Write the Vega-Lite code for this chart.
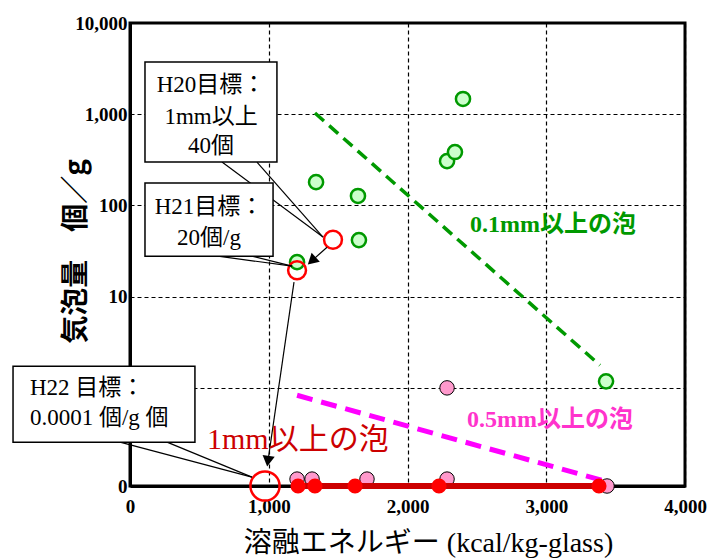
{
  "$schema": "https://vega.github.io/schema/vega-lite/v6.json",
  "width": 555,
  "height": 463,
  "autosize": {"type": "none"},
  "padding": {"left": 130, "top": 23, "right": 30, "bottom": 73},
  "background": "white",
  "config": {"view": {"stroke": "black", "strokeWidth": 3}},
  "datasets": {
    "green": [
      {"x": 1204, "y": 23.9}, {"x": 1341, "y": 180}, {"x": 1643, "y": 127}, {"x": 1650, "y": 41.7},
      {"x": 2285, "y": 306}, {"x": 2342, "y": 385}, {"x": 2400, "y": 1469}, {"x": 3431, "y": 1.18}
    ],
    "pink": [
      {"x": 2285, "y": 1.0}, {"x": 1204, "y": 0.1}, {"x": 1312, "y": 0.1}, {"x": 1708, "y": 0.1},
      {"x": 2285, "y": 0.1}, {"x": 3438, "y": 0.084}
    ],
    "red": [
      {"x": 1211, "y": 0.084}, {"x": 1333, "y": 0.084}, {"x": 1622, "y": 0.084}, {"x": 2227, "y": 0.084}, {"x": 3380, "y": 0.084}
    ],
    "targets": [{"x": 1463, "y": 42}, {"x": 1204, "y": 19.5}],
    "h22": [{"x": 973, "y": 0.084}],
    "callouts": [
      {"x": 663, "y": 299, "x2": 1391, "y2": 45},
      {"x": 915, "y": 299, "x2": 1391, "y2": 45},
      {"x": 634, "y": 27.8, "x2": 1168, "y2": 21.6},
      {"x": 879, "y": 27.8, "x2": 1168, "y2": 21.6},
      {"x": -72, "y": 0.254, "x2": 879, "y2": 0.105},
      {"x": 267, "y": 0.254, "x2": 879, "y2": 0.105}
    ],
    "boxes": [
      {"x": 108, "x2": 1059, "y": 3741, "y2": 299},
      {"x": 108, "x2": 1031, "y": 176, "y2": 27.8},
      {"x": -843, "x2": 468, "y": 1.73, "y2": 0.254}
    ],
    "shafts": [
      {"x": 1420, "y": 34.8, "x2": 1310, "y2": 24.7},
      {"x": 1182, "y": 14.4, "x2": 994, "y2": 0.157}
    ]
  },
  "encoding": {
    "x": {
      "field": "x", "type": "quantitative",
      "scale": {"domain": [0, 4000], "nice": false, "zero": false},
      "axis": {
        "values": [0, 1000, 2000, 3000, 4000], "format": ",d",
        "grid": true, "gridDash": [4, 3], "gridColor": "black", "gridWidth": 1.2, "gridOpacity": 1,
        "domainColor": "black", "domainWidth": 3, "tickSize": 0,
        "labelFont": "Liberation Serif", "labelFontWeight": "bold", "labelFontSize": 19, "labelColor": "black",
        "labelPadding": 11, "labelFlush": false,
        "titleFont": "Liberation Serif, Noto Sans CJK JP", "titleFontSize": 28, "titleFontWeight": "normal",
        "titleColor": "black", "titleX": 298, "titleY": 57, "titleBaseline": "middle", "titleAlign": "center"
      },
      "title": "溶融エネルギー (kcal/kg-glass)"
    },
    "y": {
      "field": "y", "type": "quantitative",
      "scale": {"type": "log", "domain": [0.084, 10000], "nice": false},
      "axis": {
        "values": [0.084, 1, 10, 100, 1000, 10000],
        "labelExpr": "datum.value < 0.5 ? '0' : (datum.value == 1 ? '' : format(datum.value, ',d'))",
        "grid": true, "gridDash": [4, 3], "gridColor": "black", "gridWidth": 1.2, "gridOpacity": 1,
        "domainColor": "black", "domainWidth": 3, "tickSize": 0,
        "labelFont": "Liberation Serif", "labelFontWeight": "bold", "labelFontSize": 19, "labelColor": "black",
        "labelPadding": 3, "labelOverlap": false, "labelFlush": false,
        "titleFont": "Noto Sans CJK JP", "titleFontSize": 28, "titleFontWeight": "bold", "titleColor": "black",
        "titleX": -54, "titleY": 228, "titleBaseline": "middle", "titleAlign": "center", "titleAngle": -90
      },
      "title": "気泡量　個／g"
    }
  },
  "layer": [
    {
      "data": {"values": [{"x": 1204, "y": 0.83}, {"x": 3402, "y": 0.097}]},
      "mark": {"type": "line", "color": "#ff00ff", "strokeWidth": 5, "strokeDash": [16, 9]}
    },
    {
      "data": {"values": [{"x": 1333, "y": 1030}, {"x": 3387, "y": 1.77}]},
      "mark": {"type": "line", "color": "#009900", "strokeWidth": 3.5, "strokeDash": [12, 7]}
    },
    {
      "data": {"name": "green"},
      "mark": {"type": "circle", "fill": "#ccffcc", "stroke": "#009900", "strokeWidth": 2.5, "size": 200, "opacity": 1}
    },
    {
      "data": {"name": "pink"},
      "mark": {"type": "circle", "fill": "#ff99cc", "stroke": "black", "strokeWidth": 1, "size": 210, "opacity": 1}
    },
    {
      "data": {"name": "red"},
      "mark": {"type": "line", "color": "#cc0000", "strokeWidth": 6}
    },
    {
      "data": {"name": "red"},
      "mark": {"type": "circle", "fill": "#ff0000", "size": 230, "opacity": 1}
    },
    {
      "data": {"name": "targets"},
      "mark": {"type": "point", "shape": "circle", "filled": false, "color": "#ff0000", "strokeWidth": 2.5, "size": 320, "opacity": 1}
    },
    {
      "data": {"name": "h22"},
      "mark": {"type": "point", "shape": "circle", "filled": false, "color": "#ff0000", "strokeWidth": 2.5, "size": 850, "opacity": 1}
    },
    {
      "data": {"name": "callouts"},
      "mark": {"type": "rule", "color": "black", "strokeWidth": 1.2},
      "encoding": {"x2": {"field": "x2"}, "y2": {"field": "y2"}}
    },
    {
      "data": {"name": "boxes"},
      "mark": {"type": "rect", "fill": "white", "stroke": "black", "strokeWidth": 1.5},
      "encoding": {"x2": {"field": "x2"}, "y2": {"field": "y2"}}
    },
    {
      "data": {"values": [
        {"x": 584, "y": 2087, "t": "H20目標："},
        {"x": 584, "y": 933, "t": "1mm以上"},
        {"x": 584, "y": 448, "t": "40個"},
        {"x": 569, "y": 96, "t": "H21目標："},
        {"x": 569, "y": 43.9, "t": "20個/g"}
      ]},
      "mark": {"type": "text", "font": "Liberation Serif, Noto Sans CJK JP", "fontSize": 23, "align": "center", "baseline": "middle", "color": "black"},
      "encoding": {"text": {"field": "t"}}
    },
    {
      "data": {"values": [
        {"x": -721, "y": 0.99, "t": "H22 目標："},
        {"x": -721, "y": 0.465, "t": "0.0001 個/g 個"}
      ]},
      "mark": {"type": "text", "font": "Liberation Serif, Noto Sans CJK JP", "fontSize": 23, "align": "left", "baseline": "middle", "color": "black"},
      "encoding": {"text": {"field": "t"}}
    },
    {
      "data": {"name": "shafts"},
      "mark": {"type": "rule", "color": "black", "strokeWidth": 1.2},
      "encoding": {"x2": {"field": "x2"}, "y2": {"field": "y2"}}
    },
    {
      "data": {"values": [{"x": 1310, "y": 24.7}]},
      "mark": {"type": "point", "shape": "triangle-down", "filled": true, "color": "black", "size": 150, "angle": 48, "opacity": 1}
    },
    {
      "data": {"values": [{"x": 994, "y": 0.157}]},
      "mark": {"type": "point", "shape": "triangle-down", "filled": true, "color": "black", "size": 150, "angle": 8, "opacity": 1}
    },
    {
      "data": {"values": [{"x": 555, "y": 0.267, "t": "1mm以上の泡"}]},
      "mark": {"type": "text", "font": "Liberation Serif, Noto Sans CJK JP", "fontSize": 30, "align": "left", "baseline": "middle", "color": "#cc0000"},
      "encoding": {"text": {"field": "t"}}
    },
    {
      "data": {"values": [{"x": 2450, "y": 60.8, "t": "0.1mm以上の泡"}]},
      "mark": {"type": "text", "font": "Liberation Serif, Noto Sans CJK JP", "fontSize": 24, "fontWeight": "bold", "align": "left", "baseline": "middle", "color": "#009900"},
      "encoding": {"text": {"field": "t"}}
    },
    {
      "data": {"values": [{"x": 2429, "y": 0.442, "t": "0.5mm以上の泡"}]},
      "mark": {"type": "text", "font": "Liberation Serif, Noto Sans CJK JP", "fontSize": 24, "fontWeight": "bold", "align": "left", "baseline": "middle", "color": "#ff33cc"},
      "encoding": {"text": {"field": "t"}}
    }
  ]
}
